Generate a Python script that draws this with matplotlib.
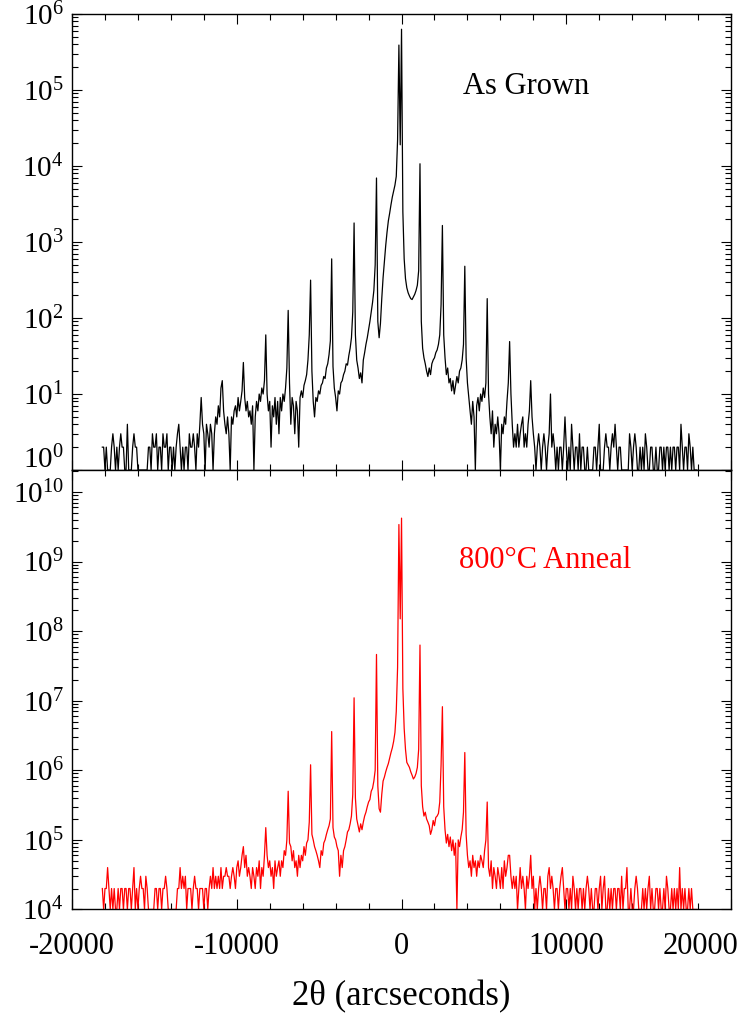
import numpy as np
import matplotlib
matplotlib.use('Agg')
import matplotlib.pyplot as plt
from matplotlib.ticker import LogLocator, MultipleLocator, NullFormatter, FixedLocator
from matplotlib.transforms import ScaledTranslation

plt.rcParams['font.family'] = ['Liberation Serif', 'DejaVu Serif']
plt.rcParams['mathtext.fontset'] = 'custom'
plt.rcParams['mathtext.rm'] = 'Liberation Serif'
plt.rcParams['mathtext.it'] = 'Liberation Serif:italic'
plt.rcParams['mathtext.bf'] = 'Liberation Serif:bold'

# ---------------- data ----------------
# 2-theta scan grid (arcseconds): start and step of the measurement
scan_start = -18160
scan_step = 80

# As-grown sample, counts (left tail, centre, right tail)
as_grown_left = [
    2, 2, 1, 2, 1, 1, 1, 2, 3, 2,
    1, 2, 1, 2, 3, 2, 2, 1, 1, 4,
    1, 1, 1, 2, 3, 2, 2, 1, 1, 1,
    1, 1, 1, 1, 1, 2, 2, 1, 3, 2,
    2, 3, 1, 2, 2, 1, 3, 2, 2, 3,
    1, 2, 2, 1, 2, 1, 2, 3, 4, 2,
    1, 2, 1, 2, 2, 1, 3, 2, 2, 3,
    2, 1, 3, 2, 4, 9, 4, 3, 1, 4,
    3, 2, 4, 3, 1, 3, 5, 4, 7, 5,
    12, 15, 6, 4, 3, 5, 3, 1, 5, 4,
    6, 7, 5, 9, 6, 8, 11, 26, 9, 6,
    8, 5,
]
as_grown_centre = [
    6, 4, 7, 1, 5, 8, 6, 10, 8, 12,
    10, 15, 60, 10, 6, 8, 2, 7, 5, 9,
    4, 8, 3, 9, 6, 10, 8, 12, 22, 126,
    14, 4, 9, 7, 3, 8, 6, 2, 9, 11,
    9, 13, 15, 18, 28, 60, 315, 20, 8, 5,
    9, 8, 11, 10, 13, 14, 17, 16, 22, 25,
    33, 50, 600, 23, 12, 9, 6, 11, 10, 14,
    15, 18, 20, 25, 24, 32, 40, 55, 120, 1780,
    60, 28, 22, 16, 19, 14, 28, 35, 45, 55,
    70, 90, 120, 160, 230, 500, 6950, 90, 55, 85,
    180, 340, 560, 900, 1350, 1900, 2400, 3100, 3900, 4700,
    5600, 7300, 22000, 390000, 19000, 630000, 2500, 600, 330, 250,
    215, 195, 180, 175, 190, 205, 230, 270, 420, 10700,
    90, 40, 30, 25, 20, 17, 22, 18, 25, 28,
    30, 35, 38, 45, 60, 150, 1650, 60, 30, 18,
    22, 14, 16, 11, 15, 10, 13, 17, 14, 20,
    22, 28, 45, 480, 30, 14, 9, 6, 4, 8,
    5, 1, 7, 9, 6, 10, 8, 12, 9, 14,
    180, 10, 5, 3, 6, 2, 4, 3, 5,
]
as_grown_right = [
    3, 1, 4, 3, 5, 4, 8, 14, 49, 10,
    4, 2, 3, 2, 4, 2, 3, 4, 5, 2,
    3, 2, 4, 6, 15, 5, 3, 2, 1, 2,
    3, 2, 1, 2, 3, 2, 1, 2, 3, 10,
    2, 3, 2, 1, 2, 1, 2, 2, 1, 2,
    5, 2, 1, 2, 1, 4, 2, 1, 2, 2,
    1, 3, 1, 2, 2, 1, 1, 2, 1, 1,
    1, 1, 2, 2, 1, 2, 4, 1, 1, 1,
    2, 3, 2, 2, 1, 2, 3, 2, 4, 2,
    1, 2, 2, 1, 1, 1, 1, 1, 1, 3,
    2, 1, 2, 3, 2, 1, 1, 2, 1, 2,
    1, 3, 2, 1, 1, 2, 2, 1, 1, 2,
    1, 1, 2, 2, 1, 2, 1, 2, 2, 1,
    2, 1, 2, 2, 1, 2, 2, 1, 4, 2,
    1, 2, 2, 1, 3, 2, 1, 2, 1, 1,
    1,
]

# 800 C annealed sample, counts (left tail, centre, right tail)
anneal_left = [
    2, 1, 2, 2, 4, 2, 1, 2, 1, 2,
    1, 1, 2, 1, 2, 2, 1, 2, 2, 1,
    2, 2, 1, 2, 4, 1, 2, 1, 2, 3,
    2, 2, 1, 3, 2, 1, 1, 1, 1, 1,
    2, 2, 1, 2, 2, 1, 2, 2, 3, 2,
    1, 1, 1, 1, 1, 1, 1, 2, 2, 4,
    2, 3, 2, 3, 1, 2, 2, 2, 1, 2,
    3, 2, 2, 1, 2, 2, 2, 1, 2, 2,
    1, 2, 3, 2, 4, 2, 3, 2, 3, 2,
    4, 2, 3, 3, 4, 3, 3, 2, 3, 4,
    3, 2, 4, 5, 3, 4, 6, 8, 4, 6,
    3, 4,
]
anneal_centre = [
    3, 2, 4, 3, 2, 4, 3, 5, 2, 4,
    3, 6, 15, 6, 4, 5, 3, 4, 2, 5,
    3, 4, 5, 3, 5, 4, 7, 6, 10, 50,
    9, 8, 5, 7, 4, 5, 3, 6, 4, 6,
    5, 8, 6, 9, 10, 18, 120, 12, 10, 8,
    7, 6, 5, 4, 7, 6, 9, 10, 12, 14,
    16, 20, 360, 15, 11, 10, 8, 7, 3, 6,
    4, 7, 8, 10, 13, 14, 17, 22, 45, 1100,
    40, 20, 16, 13, 17, 14, 18, 22, 25, 30,
    35, 38, 50, 55, 70, 100, 4620, 60, 28, 25,
    45, 70, 80, 95, 110, 125, 150, 180, 210, 260,
    350, 700, 3000, 340000, 15000, 420000, 1500, 400, 200, 130,
    120, 110, 95, 85, 75, 80, 90, 110, 200, 6300,
    60, 30, 22, 25, 20, 18, 16, 12, 14, 19,
    16, 21, 22, 24, 35, 120, 820, 30, 14, 9,
    12, 8, 11, 7, 10, 6, 9, 1, 10, 8,
    11, 14, 25, 180, 12, 6, 4, 5, 3, 6,
    4, 5, 3, 5, 4, 6, 5, 4, 7, 10,
    35, 4, 3, 5, 2, 4, 3, 2, 4,
]
anneal_right = [
    3, 2, 4, 2, 5, 3, 4, 6, 6, 3,
    2, 3, 2, 3, 1, 2, 4, 2, 3, 2,
    1, 3, 2, 3, 6, 2, 3, 1, 2, 1,
    2, 3, 2, 1, 2, 2, 1, 3, 4, 2,
    3, 2, 1, 2, 2, 1, 2, 3, 4, 2,
    1, 2, 2, 1, 2, 1, 3, 2, 1, 2,
    1, 2, 2, 1, 2, 1, 2, 3, 2, 1,
    2, 1, 1, 2, 2, 1, 2, 3, 1, 2,
    3, 1, 1, 2, 1, 2, 1, 2, 2, 1,
    2, 2, 1, 3, 1, 2, 2, 4, 1, 1,
    2, 1, 1, 2, 3, 2, 1, 1, 1, 2,
    1, 2, 1, 2, 3, 1, 2, 1, 1, 2,
    2, 1, 2, 1, 1, 2, 1, 3, 2, 1,
    1, 2, 1, 2, 1, 2, 1, 4, 1, 2,
    1, 2, 1, 1, 2, 1, 2, 1, 1, 1,
    1,
]
anneal_offset = 1e4   # annealed curve multiplied for display

x_ticks = [-20000, -10000, 0, 10000, 20000]
x_tick_labels = ['-20000', '-10000', '0', '10000', '20000']
top_y_exponents = [0, 1, 2, 3, 4, 5, 6]
bottom_y_exponents = [4, 5, 6, 7, 8, 9, 10]
top_label = 'As Grown'
bottom_label = '800\u00b0C Anneal'
x_label = '2\u03b8 (arcseconds)'

# ---------------- build series ----------------
as_grown = np.array(as_grown_left + as_grown_centre + as_grown_right, dtype=float)
anneal = np.array(anneal_left + anneal_centre + anneal_right, dtype=float) * anneal_offset
two_theta = scan_start + scan_step * np.arange(len(as_grown))

# ---------------- figure ----------------
fig = plt.figure(figsize=(7.44, 10.13), dpi=100)
ax1 = fig.add_axes([0.0968, 0.536, 0.8858, 0.4502])
ax2 = fig.add_axes([0.0968, 0.1022, 0.8858, 0.4339])

ax1.plot(two_theta, as_grown, color='black', lw=0.9)
ax2.plot(two_theta, anneal, color='red', lw=0.9)

ax1.set_yscale('log')
ax2.set_yscale('log')
ax1.set_ylim(1, 1e6)
ax2.set_ylim(1e4, 2.07e10)

TICK_FS = 21
XTICK_FS = 22
XPAD = 16
for ax in (ax1, ax2):
    ax.set_xlim(-20000, 20000)
    ax.xaxis.set_major_locator(FixedLocator(x_ticks))
    ax.xaxis.set_minor_locator(MultipleLocator(2000))
    ax.yaxis.set_minor_locator(LogLocator(base=10, subs=range(2, 10), numticks=30))
    ax.yaxis.set_minor_formatter(NullFormatter())
    ax.tick_params(which='both', direction='in', top=True, right=True, width=0.8)
    ax.tick_params(axis='y', labelsize=TICK_FS, pad=6)
    ax.tick_params(axis='x', labelsize=XTICK_FS, pad=XPAD)
    ax.tick_params(which='major', length=7.5)
    ax.tick_params(which='minor', length=4)
    for sp in ax.spines.values():
        sp.set_linewidth(1.0)

# top panel y ticks (10^0 label drawn separately, raised)
ax1.set_yticks([10.0 ** k for k in top_y_exponents],
               labels=[''] + ['10$^{%d}$' % k for k in top_y_exponents[1:]])
ax1.set_xticks(x_ticks, labels=[''] * len(x_ticks))
tr0 = ax1.get_yaxis_text1_transform(6)[0] + ScaledTranslation(0, 13 / 100, fig.dpi_scale_trans)
ax1.text(0, 1.0, '10$^{%d}$' % top_y_exponents[0], transform=tr0, ha='right',
         va='center_baseline', fontsize=TICK_FS)

ax2.set_yticks([10.0 ** k for k in bottom_y_exponents],
               labels=['10$^{%d}$' % k for k in bottom_y_exponents])
ax2.set_xticks(x_ticks, labels=x_tick_labels[:-1] + [''])
trx = ax2.get_xaxis_text1_transform(XPAD)[0] + ScaledTranslation(-31 / 100, 0, fig.dpi_scale_trans)
ax2.text(x_ticks[-1], 0, x_tick_labels[-1], transform=trx, ha='center', va='top',
         fontsize=XTICK_FS)

ax2.set_xlabel(x_label, fontsize=25, labelpad=14)

ax1.text(0.593, 0.842, top_label, transform=ax1.transAxes, ha='left', va='center',
         fontsize=22, color='black')
ax2.text(0.587, 0.795, bottom_label, transform=ax2.transAxes, ha='left', va='center',
         fontsize=22, color='red')

fig.savefig('out.png', dpi=100)
